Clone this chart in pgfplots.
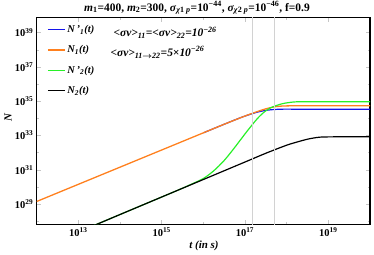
\documentclass[border=0pt]{standalone}
\usepackage{pgfplots}
\pgfplotsset{compat=1.18}
\usepackage{fontspec}
\setmainfont{Liberation Serif}
\definecolor{cblue}{RGB}{20,20,235}
\definecolor{corange}{RGB}{255,128,30}
\definecolor{cgreen}{RGB}{40,240,40}
\newcommand{\tl}[1]{\textbf{10}\textsuperscript{\textbf{#1}}}
\begin{document}
\begin{tikzpicture}
\path[use as bounding box] (0,0) rectangle (374bp,255bp);
\begin{axis}[
  at={(36.7bp,30.7bp)}, anchor=south west,
  scale only axis, width=333.3bp, height=206.6bp,
  xmin=12, xmax=20, ymin=27.83, ymax=39.87,
  axis line style={line width=1.4bp},
  xtick={13,15,17,19}, xticklabels={\tl{13},\tl{15},\tl{17},\tl{19}},
  minor xtick={12,14,16,18,20},
  ytick={29,31,33,35,37,39}, yticklabels={\tl{29},\tl{31},\tl{33},\tl{35},\tl{37},\tl{39}},
  minor ytick={28,30,32,34,36,38},
  tick align=inside, tick pos=both,
  major tick length=4bp, minor tick length=2bp,
  tick style={gray!45, line width=0.5bp},
  ticklabel style={font=\fontsize{10.5}{11}\selectfont},
  clip=true,
  legend cell align=left,
  legend style={draw=none, fill=none, at={(0.028,0.978)}, anchor=north west,
    font=\fontsize{10.5}{11}\selectfont\bfseries\itshape, row sep=7.5bp, inner sep=1bp},
  legend image code/.code={\draw[#1,line width=1.2bp] plot coordinates {(0bp,0bp) (17bp,0bp)};},
]
\addplot[cblue, line width=1.2bp, smooth] coordinates {
(16.0,33.16) (16.5,33.66) (16.9,34.05) (17.1,34.22) (17.3,34.37) (17.5,34.47) (17.7,34.52) (17.9,34.54) (18.2,34.54) (19,34.54) (20,34.54)};
\addlegendentry{N\,'\textsubscript{1}(t)}
\addplot[corange, line width=1.3bp, smooth] coordinates {
(12,29.16) (13,30.16) (14,31.16) (15,32.16) (16,33.16) (16.5,33.66) (17,34.14) (17.25,34.36) (17.5,34.56) (17.75,34.69) (18,34.73) (18.5,34.74) (19,34.74) (20,34.74)};
\addlegendentry{N\textsubscript{1}(t)}
\addplot[cgreen, line width=1.2bp, smooth] coordinates {
(13.2,27.58) (14,28.4) (15,29.42) (15.4,29.83) (15.67,30.12) (16.0,30.5) (16.25,30.95) (16.5,31.55) (16.75,32.3) (17.0,33.1) (17.17,33.62) (17.3,34.0) (17.45,34.35) (17.6,34.6) (17.75,34.75) (17.9,34.86) (18.1,34.94) (18.3,34.97) (19,34.97) (20,34.97)};
\addlegendentry{N\,'\textsubscript{2}(t)}
\addplot[black, line width=1.2bp, smooth] coordinates {
(13.2,27.58) (14,28.4) (15,29.42) (16,30.44) (17,31.46) (17.5,31.97) (18,32.44) (18.3,32.66) (18.5,32.79) (18.7,32.88) (18.9,32.92) (19.5,32.93) (20,32.93)};
\addlegendentry{N\textsubscript{2}(t)}
\addplot[gray!35, line width=0.6bp, forget plot] coordinates {(17.176,20) (17.176,45)};
\addplot[gray!35, line width=0.6bp, forget plot] coordinates {(17.699,20) (17.699,45)};
\node[anchor=west, font=\fontsize{11.5}{12}\selectfont\bfseries\itshape] at (rel axis cs:0.22,0.928)
  {\textless σv\textgreater\textsubscript{11}=\textless σv\textgreater\textsubscript{22}=10\textsuperscript{−26}};
\node[anchor=west, font=\fontsize{11.5}{12}\selectfont\bfseries\itshape] at (rel axis cs:0.211,0.831)
  {\textless σv\textgreater\textsubscript{11{\boldmath$\to$}22}=5×10\textsuperscript{−26}};
\end{axis}
\node[font=\fontsize{11.5}{13}\selectfont\bfseries] at (197bp,247bp)
  {\textit{m}\textsubscript{1}=400, \textit{m}\textsubscript{2}=300, \textit{σ}\textsubscript{\textit{χ}1 \textit{p}}=10\textsuperscript{−44}, \textit{σ}\textsubscript{\textit{χ}2 \textit{p}}=10\textsuperscript{−46}, f=0.9};
\node[font=\fontsize{11}{13}\selectfont\bfseries\itshape] at (204bp,9bp) {t (in s)};
\node[font=\fontsize{11}{13}\selectfont\bfseries\itshape, rotate=90] at (8bp,137bp) {N};
\end{tikzpicture}
\end{document}
